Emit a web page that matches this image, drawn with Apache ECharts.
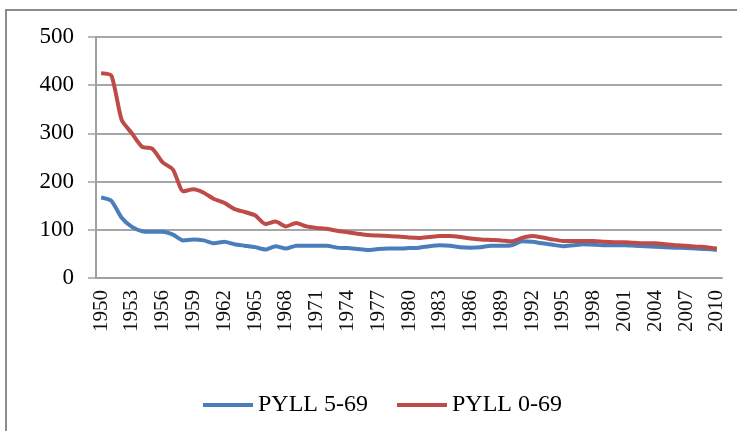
<!DOCTYPE html>
<html lang="en">
<head>
  <meta charset="UTF-8">
  <title>PYLL</title>
  <style>
    html, body { margin: 0; padding: 0; background: #fff; }
  </style>
</head>
<body>
  <div id="main" style="width:737px;height:431px;"></div>
  <script src="https://cdn.jsdelivr.net/npm/echarts@6/dist/echarts.min.js"></script>
  <script>
  // years 1950..2010
  var years = []
  for (var y = 1950; y <= 2010; y++) years.push(String(y))

  var pyll569 = [
    167, 160, 125, 106, 97, 96, 96, 90, 78, 80,
    78, 72, 75, 70, 67, 64, 59, 66, 61, 67,
    67, 67, 67, 63, 62, 60, 58, 60, 61, 61,
    62, 63, 66, 68, 67, 64, 63, 64, 67, 67,
    68, 76, 75, 72, 69, 66, 68, 70, 69, 68,
    68, 68, 67, 66, 65, 64, 63, 62, 61, 60,
    58
  ]
  var pyll069 = [
    425, 420, 328, 300, 272, 268, 240, 225, 180, 184,
    177, 164, 156, 143, 137, 130, 112, 117, 107, 114,
    107, 104, 102, 98, 95, 92, 89, 88, 87, 86,
    84, 83, 85, 87, 87, 85, 82, 80, 79, 78,
    76, 83, 87, 84, 80, 77, 77, 77, 77, 75,
    74, 74, 73, 72, 72, 70, 68, 67, 65, 64,
    61
  ]
  var yTicks = [0, 100, 200, 300, 400, 500]

  var font = '"Liberation Serif", "DejaVu Serif", serif'
  var myChart = echarts.init(document.getElementById('main'))
  var option = {
    backgroundColor: '#fff',
    animation: false,
    graphic: [{
      type: 'rect',
      shape: { x: 6, y: 10, width: 800, height: 500 },
      style: { fill: 'none', stroke: '#8c8c8c', lineWidth: 2 }
    }],
    grid: { left: 96, right: 15, top: 37, bottom: 153 },
    legend: {
      top: 388,
      left: 198,
      itemWidth: 50,
      itemHeight: 4,
      itemGap: 29,
      icon: 'rect',
      textStyle: { fontFamily: font, fontSize: 24, color: '#000' },
      data: ['PYLL 5-69', 'PYLL 0-69']
    },
    xAxis: {
      type: 'category',
      data: years,
      boundaryGap: true,
      axisLine: { lineStyle: { color: '#a0a0a0', width: 2 } },
      axisTick: { interval: 0, length: 8, lineStyle: { color: '#a0a0a0', width: 1.5 } },
      axisLabel: {
        interval: 2,
        rotate: 90,
        margin: 12,
        fontFamily: font,
        fontSize: 21,
        color: '#111'
      }
    },
    yAxis: {
      type: 'value',
      min: yTicks[0],
      max: yTicks[yTicks.length - 1],
      interval: 100,
      axisLine: { show: true, lineStyle: { color: '#a0a0a0', width: 2 } },
      axisTick: { show: true, length: 8, lineStyle: { color: '#a0a0a0', width: 1.5 } },
      splitLine: { lineStyle: { color: '#a6a6a6', width: 1.8 } },
      axisLabel: { margin: 22, fontFamily: font, fontSize: 23, color: '#000' }
    },
    series: [
      {
        name: 'PYLL 5-69',
        type: 'line',
        data: pyll569,
        symbol: 'none',
        smooth: 0.2,
        color: '#4a7ebb',
        lineStyle: { width: 4, color: '#4a7ebb', join: 'round' }
      },
      {
        name: 'PYLL 0-69',
        type: 'line',
        data: pyll069,
        symbol: 'none',
        smooth: 0.2,
        color: '#be4b48',
        lineStyle: { width: 4, color: '#be4b48', join: 'round' }
      }
    ]
  }
  myChart.setOption(option)
  </script>
</body>
</html>
